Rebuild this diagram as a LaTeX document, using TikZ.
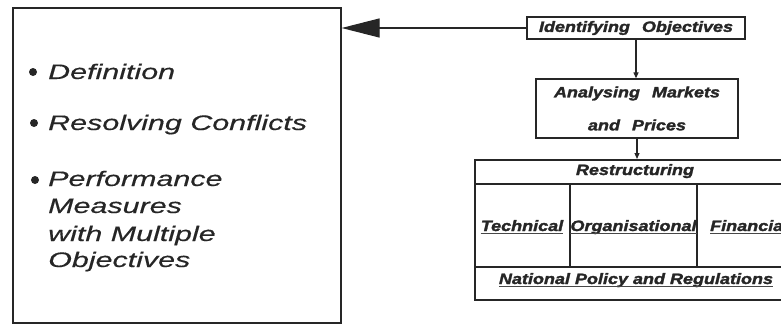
\documentclass[tikz,border=0pt]{standalone}
\usepackage{fontspec}
\setmainfont{Liberation Sans}
\newfontfamily\listfont[FakeStretch=1.45,FakeBold=0.4]{Liberation Sans}
\newfontfamily\labelfont[FakeStretch=1.2,BoldItalicFeatures={FakeBold=1.8}]{Liberation Sans}
\usetikzlibrary{arrows.meta}
\definecolor{ink}{HTML}{262626}

\begin{document}
\begin{tikzpicture}[x=1pt,y=-1pt,
  frame/.style={draw=ink, line width=1.6pt, inner sep=0pt},
  thinframe/.style={frame, line width=1.3pt},
  listtext/.style={anchor=base west, inner sep=0pt, text=ink,
    font=\listfont\itshape\fontsize{21}{27}\selectfont},
  boxtext/.style={inner sep=0pt, text=ink,
    font=\labelfont\bfseries\itshape\fontsize{15}{33}\selectfont},
  dot/.style={circle, fill=ink, inner sep=0pt, minimum size=8pt},
  uline/.style={draw=ink!85, line width=1.4pt},
  link/.style={draw=ink, line width=1.2pt},
]
\useasboundingbox (0,0) rectangle (781,324);

% outcome box with the bullet list
\node[frame, anchor=north west, minimum width=328pt, minimum height=315pt] (goals) at (12,7) {};
\node[dot] (b1) at (33,72) {};
\node[listtext] (t1) at (48,79) {Definition};
\node[dot] (b2) at (34,123) {};
\node[listtext] (t2) at (48,130) {Resolving Conflicts};
\node[dot] (b3) at (35,180) {};
\node[listtext] (t3a) at (48,186) {Performance};
\node[listtext] (t3b) at (48,213) {Measures};
\node[listtext] (t3c) at (48,241) {with Multiple};
\node[listtext] (t3d) at (48,267) {Objectives};

% process chain
\node[thinframe, boxtext, minimum width=218pt, minimum height=22pt] (ident) at (636,28)
  {Identifying\hspace{12pt}Objectives};
\node[thinframe, boxtext, align=center, minimum width=202pt, minimum height=59pt] (analyse) at (637,108.5)
  {Analysing\hspace{12pt}Markets\\and\hspace{12pt}Prices};

% restructuring table
\node[frame, anchor=north west, minimum width=360pt, minimum height=140pt] (table) at (474,159) {};
\draw[frame] (474,184) -- (834,184);
\draw[frame] (474,267) -- (834,267);
\draw[frame] (570,184) -- (570,267);
\draw[frame] (697,184) -- (697,267);

\node[boxtext, anchor=base] (restr) at (635,175) {Restructuring};
\node[boxtext, anchor=base] (tech) at (522,231) {Technical};
\node[boxtext, anchor=base] (org) at (633.5,231) {Organisational};
\node[boxtext, anchor=base west] (fin) at (710,231) {Financial};
\node[boxtext, anchor=base] (policy) at (636,284) {National Policy and Regulations};
\foreach \n in {tech,org,fin,policy}
  \draw[uline] ([yshift=-2.5pt]\n.base west) -- ([yshift=-2.5pt]\n.base east);

% connectors
\draw[link, -{Triangle[length=38pt,width=19pt]}] (ident.west) -- (goals.east |- ident.west);
\draw[link, -{Triangle[length=6pt,width=5pt]}] (ident.south) -- (ident.south |- analyse.north);
\draw[link, -{Triangle[length=6pt,width=5pt]}] (analyse.south) -- (analyse.south |- table.north);
\end{tikzpicture}
\end{document}
